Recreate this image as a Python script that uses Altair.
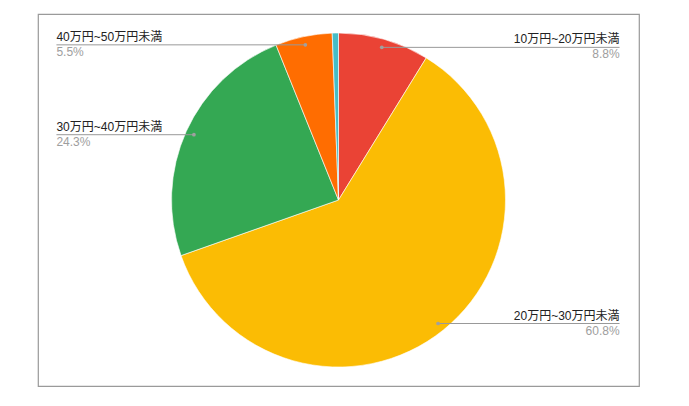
import pandas as pd
import altair as alt

# data (percent of respondents)
categories = ["10万円~20万円未満", "20万円~30万円未満", "30万円~40万円未満",
              "40万円~50万円未満", "50万円以上"]
shares = [8.8, 60.8, 24.3, 5.5, 0.6]
pct_labels = ["8.8%", "60.8%", "24.3%", "5.5%", "0.6%"]
labelled = [True, True, True, True, False]
colors = ["#ea4335", "#fbbc04", "#34a853", "#ff6d01", "#46bdc6"]

W, H, R = 601, 372, 167
FONT = "Liberation Sans, Noto Sans CJK JP, sans-serif"

df = pd.DataFrame({
    "category": categories,
    "share": shares,
    "pct": pct_labels,
    "labelled": labelled,
    "order": range(len(categories)),
})

xs = alt.Scale(domain=[-W / 2 / R, W / 2 / R], range=[0, W])
ys = alt.Scale(domain=[-H / 2 / R, H / 2 / R], range=[H, 0])

base = alt.Chart(df)

pie = base.mark_arc(outerRadius=R, stroke="white", strokeWidth=0.6).encode(
    theta=alt.Theta("share:Q", stack=True),
    order=alt.Order("order:Q"),
    color=alt.Color("category:N", scale=alt.Scale(domain=categories, range=colors), legend=None),
)

# leader line geometry derived from the slice mid angles
lab = base.transform_joinaggregate(
    total="sum(share)"
).transform_window(
    cum="sum(share)", sort=[alt.SortField("order")], frame=[None, 0]
).transform_calculate(
    mid="2 * PI * (datum.cum - datum.share / 2) / datum.total",
).transform_calculate(
    dx="0.95 * sin(datum.mid)",
    dy="0.95 * cos(datum.mid)",
    side="sin(datum.mid) > 0 ? 1.683 : -1.689",
    right="sin(datum.mid) > 0",
).transform_filter("datum.labelled")

rules = lab.mark_rule(color="#999999", strokeWidth=1).encode(
    x=alt.X("dx:Q", scale=xs, axis=None),
    x2="side:Q",
    y=alt.Y("dy:Q", scale=ys, axis=None),
)
dots = lab.mark_circle(size=14, color="#a0a0a0", opacity=1).encode(
    x=alt.X("dx:Q", scale=xs, axis=None),
    y=alt.Y("dy:Q", scale=ys, axis=None),
)


def texts(is_right):
    sub = lab.transform_filter("datum.right" if is_right else "!datum.right")
    align = "right" if is_right else "left"
    name = sub.mark_text(align=align, baseline="bottom", dy=-1, font=FONT,
                         fontSize=12, color="#222222").encode(
        x=alt.X("side:Q", scale=xs, axis=None),
        y=alt.Y("dy:Q", scale=ys, axis=None),
        text="category:N",
    )
    pct = sub.mark_text(align=align, baseline="top", dy=2, font=FONT,
                        fontSize=12, color="#9e9e9e").encode(
        x=alt.X("side:Q", scale=xs, axis=None),
        y=alt.Y("dy:Q", scale=ys, axis=None),
        text="pct:N",
    )
    return name + pct


chart = alt.layer(pie, rules, dots, texts(True), texts(False)).properties(
    width=W,
    height=H,
    padding={"left": 30, "top": 6, "right": 10, "bottom": 5},
    background="white",
).configure_view(
    stroke="#9a9a9a",
    strokeWidth=1.2,
)

chart.save("out.html", embed_options={"renderer": "svg", "actions": False})
